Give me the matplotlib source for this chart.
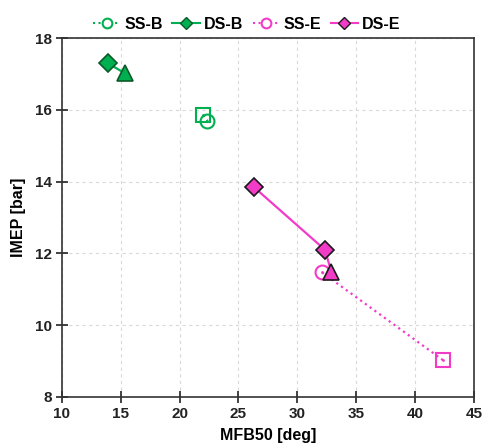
import matplotlib.pyplot as plt
from matplotlib.lines import Line2D

# MFB50 [deg] and IMEP [bar] for each strategy, plus the marker used per point
ssb_x = [22.0, 22.35]
ssb_y = [15.85, 15.7]
ssb_m = ['s', 'o']

dsb_x = [13.9, 15.35]
dsb_y = [17.3, 17.02]
dsb_m = ['D', '^']

sse_x = [32.1, 42.4]
sse_y = [11.47, 9.02]
sse_m = ['o', 's']

dse_x = [26.3, 32.35, 32.9]
dse_y = [13.85, 12.1, 11.47]
dse_m = ['D', 'D', '^']

labels = ['SS-B', 'DS-B', 'SS-E', 'DS-E']

GREEN = '#00b050'
PINK = '#f23cc8'

plt.rcParams['font.family'] = ['Liberation Sans', 'DejaVu Sans']
plt.rcParams['font.weight'] = 'bold'

fig = plt.figure(figsize=(4.84, 4.48), dpi=100)
ax = fig.add_axes([0.128, 0.114, 0.851, 0.801])


def draw_series(x, y, markers, color, ls, filled, edge):
    ax.plot(x, y, color=color, ls=ls, lw=1.6, zorder=2)
    for xi, yi, m in zip(x, y, markers):
        size = {'D': 9, '^': 11, 's': 10, 'o': 10}[m]
        if filled:
            ax.plot(xi, yi, marker=m, ms=size, mfc=color, mec=edge, mew=1.2,
                    ls='none', zorder=3)
        else:
            ax.plot(xi, yi, marker=m, ms=size, mfc='none', mec=color, mew=1.5,
                    ls='none', zorder=3)
            ax.plot(xi, yi, marker='.', ms=2, color=color, ls='none', zorder=4)


draw_series(ssb_x, ssb_y, ssb_m, GREEN, ':', False, GREEN)
draw_series(dsb_x, dsb_y, dsb_m, GREEN, '-', True, '#0a5a2a')
draw_series(sse_x, sse_y, sse_m, PINK, ':', False, PINK)
draw_series(dse_x, dse_y, dse_m, PINK, '-', True, '#1a1a1a')

ax.set_xlim(10, 45)
ax.set_ylim(8, 18)
ax.set_xticks(range(10, 46, 5))
ax.set_yticks(range(8, 19, 2))
ax.grid(True, ls=(0, (3, 3)), color='#d9d9d9', lw=0.8)
ax.set_axisbelow(True)
ax.tick_params(direction='inout', length=8, width=1.2, labelsize=11, colors='#222222')
for lbl in ax.get_xticklabels() + ax.get_yticklabels():
    lbl.set_fontweight('bold')
for s in ax.spines.values():
    s.set_linewidth(1.2)
    s.set_color('#333333')
ax.set_xlabel('MFB50 [deg]', fontsize=11.5, fontweight='bold', labelpad=5)
ax.set_ylabel('IMEP [bar]', fontsize=11.5, fontweight='bold', labelpad=6)

handles = [
    Line2D([], [], color=GREEN, ls=':', lw=1.5, marker='o', ms=7, mfc='white', mec=GREEN, mew=1.5),
    Line2D([], [], color=GREEN, ls='-', lw=1.5, marker='D', ms=6, mfc=GREEN, mec='#0a5a2a'),
    Line2D([], [], color=PINK, ls=':', lw=1.5, marker='o', ms=7, mfc='white', mec=PINK, mew=1.5),
    Line2D([], [], color=PINK, ls='-', lw=1.5, marker='D', ms=6, mfc=PINK, mec='#1a1a1a'),
]
fig.legend(handles, labels, loc='upper center', bbox_to_anchor=(0.51, 0.995), ncol=4,
           frameon=False, handlelength=1.7, handletextpad=0.25,
           columnspacing=0.6, prop={'weight': 'bold', 'size': 11.5})

fig.savefig('out.png', dpi=100)
